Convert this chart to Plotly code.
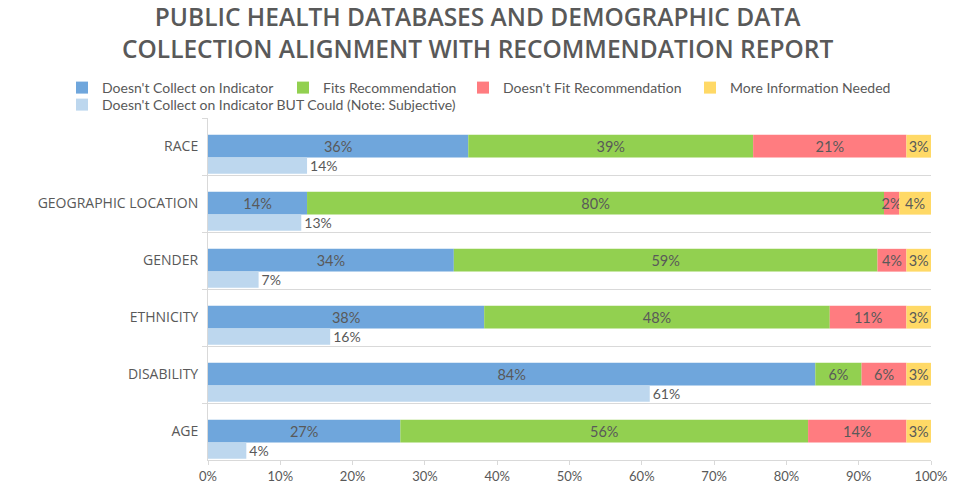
import plotly.graph_objects as go

categories = ["RACE", "GEOGRAPHIC LOCATION", "GENDER", "ETHNICITY", "DISABILITY", "AGE"]

doesnt_collect = [36.0, 13.7, 34.0, 38.2, 84.0, 26.6]
fits_rec = [39.4, 79.8, 58.6, 47.8, 6.4, 56.4]
doesnt_fit = [21.2, 2.1, 4.0, 10.6, 6.2, 13.6]
more_info = [3.4, 4.4, 3.4, 3.4, 3.4, 3.4]

could_collect = [13.7, 12.9, 7.0, 16.9, 61.1, 5.3]
could_labels = ["14%", "13%", "7%", "16%", "61%", "4%"]

x_ticks = [0, 10, 20, 30, 40, 50, 60, 70, 80, 90, 100]
x_tick_labels = ["0%", "10%", "20%", "30%", "40%", "50%", "60%", "70%", "80%", "90%", "100%"]

TXT = "#595959"
LBL_FONT = "Lato, Liberation Sans, sans-serif"

main_series = [
    ("Doesn't Collect on Indicator", doesnt_collect, "#6FA6DC"),
    ("Fits Recommendation", fits_rec, "#92D050"),
    ("Doesn't Fit Recommendation", doesnt_fit, "#FF7C80"),
    ("More Information Needed", more_info, "#FFD966"),
]

W, H = 955, 483
ML, MR, MT, MB = 208, 24, 118, 23

# legend placement (left edge px, top px) for each entry
legend_pos = [(62, 72), (283, 72), (463, 72), (690, 72), (62, 89)]
legend_keys = ["legend", "legend2", "legend3", "legend4", "legend5"]

fig = go.Figure()
base = [0.0] * len(categories)
for i, (name, vals, col) in enumerate(main_series):
    fig.add_trace(go.Bar(
        y=categories, x=vals, base=list(base), orientation="h", name=name,
        marker=dict(color=col, line=dict(width=0)),
        offset=-0.205, width=0.40,
        texttemplate="%{x:.0f}%", textposition="inside", insidetextanchor="middle",
        textangle=0, constraintext="none", cliponaxis=False,
        textfont=dict(family=LBL_FONT, size=14.5, color=TXT),
        legend=legend_keys[i],
    ))
    base = [round(b + v, 6) for b, v in zip(base, vals)]

fig.add_trace(go.Bar(
    y=categories, x=could_collect, orientation="h",
    name="Doesn't Collect on Indicator BUT Could (Note: Subjective)",
    marker=dict(color="#BDD7EE", line=dict(width=0)),
    offset=0.195, width=0.285,
    text=could_labels, textposition="outside", textangle=0, constraintext="none",
    textfont=dict(family=LBL_FONT, size=14, color=TXT),
    cliponaxis=False,
    legend=legend_keys[4],
))

plot_h = H - MT - MB

def paper_y(px):
    return (H - MB - px) / plot_h

legend_common = dict(
    orientation="h", xref="container", yref="container",
    xanchor="left", yanchor="top",
    font=dict(family=LBL_FONT, size=14, color=TXT),
    itemwidth=30, traceorder="normal", bgcolor="rgba(0,0,0,0)",
)
legends = {k: dict(legend_common, x=px / W, y=1 - py / H) for k, (px, py) in zip(legend_keys, legend_pos)}

fig.update_layout(
    width=W, height=H,
    barmode="overlay",
    paper_bgcolor="white", plot_bgcolor="white",
    margin=dict(l=ML, r=MR, t=MT, b=MB, autoexpand=False),
    annotations=[dict(
        text="PUBLIC HEALTH DATABASES AND DEMOGRAPHIC DATA<br>COLLECTION ALIGNMENT WITH RECOMMENDATION REPORT",
        xref="paper", yref="paper", x=(W / 2 - ML) / (W - ML - MR), y=paper_y(-2),
        xanchor="center", yanchor="top", showarrow=False, align="center",
        font=dict(family="Open Sans", size=24.5, color=TXT, weight=600),
    )],
    showlegend=True,
    xaxis=dict(
        range=[0, 100], tickmode="array", tickvals=x_ticks, ticktext=x_tick_labels,
        showgrid=False, zeroline=False,
        showline=True, linecolor="#d9d9d9", linewidth=1,
        ticks="outside", ticklen=4, tickcolor="#d9d9d9",
        tickfont=dict(family=LBL_FONT, size=13, color=TXT),
    ),
    yaxis=dict(
        autorange="reversed", type="category",
        tickson="boundaries", showgrid=True, gridcolor="#d9d9d9", gridwidth=1,
        showline=True, linecolor="#d9d9d9", linewidth=1,
        ticks="outside", ticklen=5, tickcolor="#d9d9d9",
        ticklabelstandoff=6,
        tickfont=dict(family="Open Sans", size=14, color=TXT),
    ),
    **legends,
)

fig.write_html(
    "out.html",
    config={"displayModeBar": False},
    post_script="document.body.style.margin='0';document.body.style.padding='0';",
)
